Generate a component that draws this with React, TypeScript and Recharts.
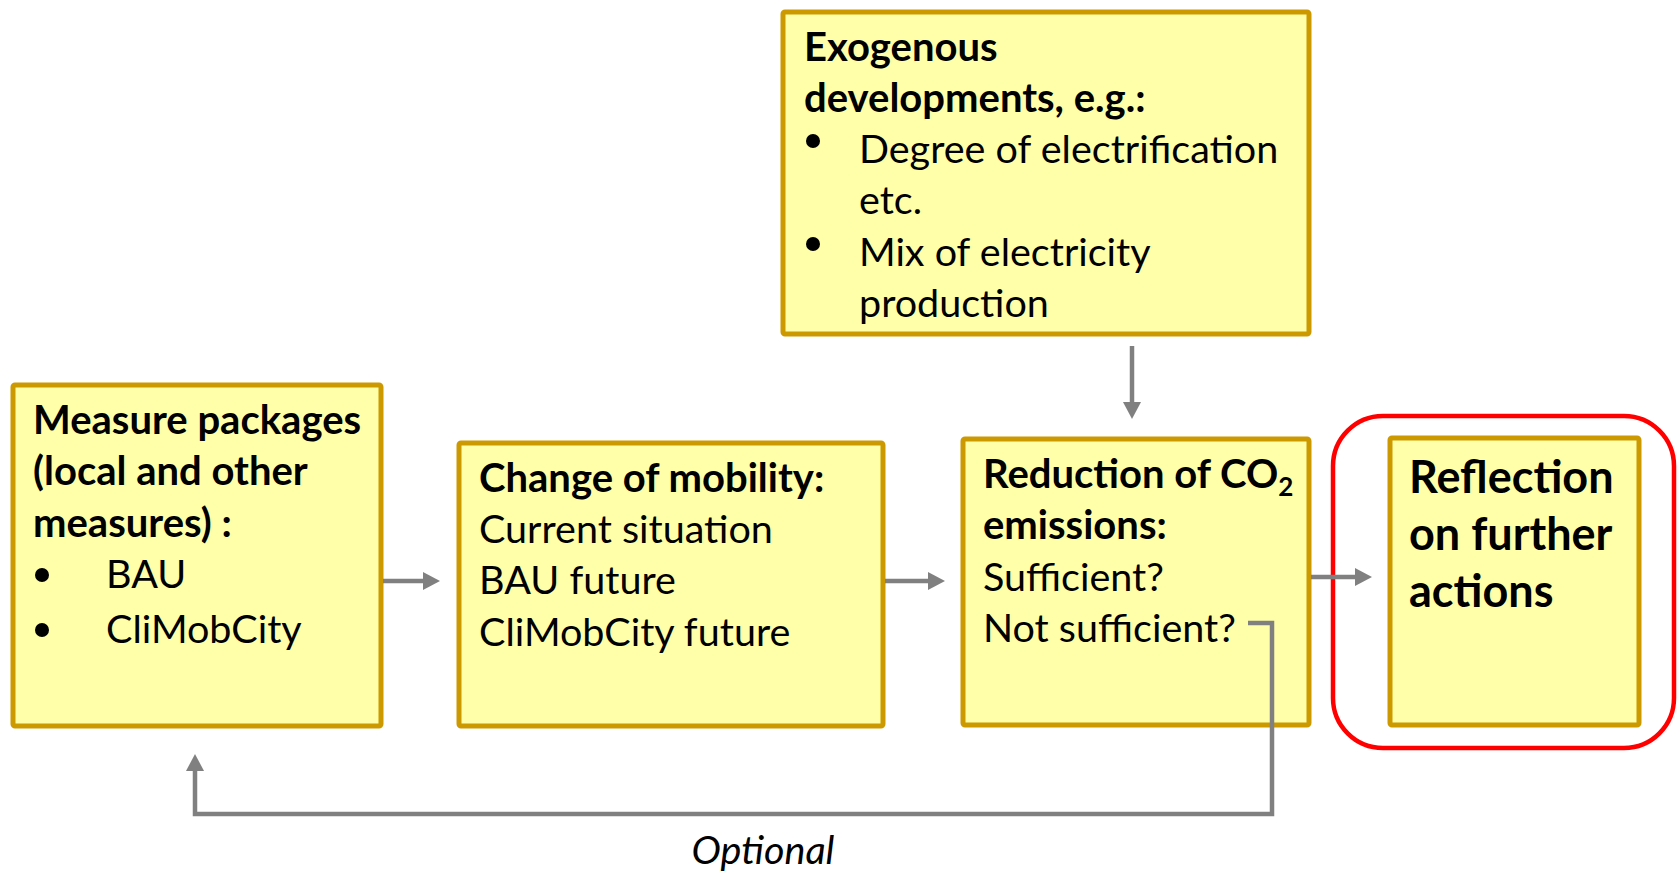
import React from 'react';
import { ComposedChart, XAxis, YAxis, Scatter, ReferenceArea } from 'recharts';

// ---- content ----
const exogenousTitle = ['Exogenous', 'developments, e.g.:'];
const exogenousItems = ['Degree of electrification', 'etc.', 'Mix of electricity', 'production'];
const measureTitle = ['Measure packages', '(local and other', 'measures) :'];
const measureItems = ['BAU', 'CliMobCity'];
const mobilityTitle = ['Change of mobility:'];
const mobilityItems = ['Current situation', 'BAU future', 'CliMobCity future'];
const reductionTitle = ['Reduction of CO', 'emissions:'];
const reductionItems = ['Sufficient?', 'Not sufficient?'];
const reflectionLines = ['Reflection', 'on further', 'actions'];
const feedbackLabel = 'Optional';

// ---- layout (diagram units = page pixels) ----
const FONT = 'Lato, "Open Sans", sans-serif';
const SIZE = 39.5;
const BOLD = 40;
const BIG = 45;
const LINE = 51.3;
const FILL = '#FFFFAA';
const EDGE = '#CC9900';
const GREY = '#808080';

const frames = [
  { x0: 783, x1: 1309, y0: 12, y1: 334 },
  { x0: 13, x1: 381, y0: 385, y1: 726 },
  { x0: 459, x1: 883, y0: 443, y1: 726 },
  { x0: 963, x1: 1309, y0: 439, y1: 725 },
  { x0: 1390, x1: 1639, y0: 438, y1: 725 },
];

type T = { x: number; y: number; t: string; bold?: boolean; size?: number; italic?: boolean; anchor?: string; sub?: boolean };

const texts: T[] = [];
const bullets: { x: number; y: number }[] = [];

exogenousTitle.forEach((t, i) => texts.push({ x: 804, y: 61 + i * LINE, t, bold: true }));
exogenousItems.forEach((t, i) => texts.push({ x: 859, y: 163 + i * LINE, t }));
bullets.push({ x: 813, y: 141 }, { x: 813, y: 244 });

measureTitle.forEach((t, i) => texts.push({ x: 33, y: 434 + i * LINE, t, bold: true }));
measureItems.forEach((t, i) => texts.push({ x: 106, y: 588 + i * 55, t }));
bullets.push({ x: 42, y: 575 }, { x: 42, y: 630 });

mobilityTitle.forEach((t) => texts.push({ x: 479, y: 492, t, bold: true }));
mobilityItems.forEach((t, i) => texts.push({ x: 479, y: 543 + i * LINE, t }));

reductionTitle.forEach((t, i) => texts.push({ x: 983, y: 488 + i * LINE, t, bold: true, sub: i === 0 }));
reductionItems.forEach((t, i) => texts.push({ x: 983, y: 591 + i * LINE, t }));

reflectionLines.forEach((t, i) => texts.push({ x: 1409, y: 493 + i * 57, t, bold: true, size: BIG }));

texts.push({ x: 763, y: 864, t: feedbackLabel, italic: true, anchor: 'middle' });

const connectors = [
  [{ x: 1132, y: 346 }, { x: 1132, y: 404 }],
  [{ x: 383, y: 581 }, { x: 425, y: 581 }],
  [{ x: 885, y: 581 }, { x: 930, y: 581 }],
  [{ x: 1311, y: 577 }, { x: 1357, y: 577 }],
  [{ x: 1248, y: 623 }, { x: 1272, y: 623 }, { x: 1272, y: 814 }, { x: 195, y: 814 }, { x: 195, y: 770 }],
];
const heads = [
  { x: 1132, y: 419, dir: 'down' },
  { x: 440, y: 581, dir: 'right' },
  { x: 945, y: 581, dir: 'right' },
  { x: 1372, y: 577, dir: 'right' },
  { x: 195, y: 754, dir: 'up' },
];

const TextShape = (p: any) => {
  const d: T = p.payload;
  const size = d.size || (d.bold ? BOLD : SIZE);
  return (
    <text
      x={p.cx}
      y={p.cy}
      fontFamily={FONT}
      fontSize={size}
      fontWeight={d.bold ? 700 : 400}
      fontStyle={d.italic ? 'italic' : 'normal'}
      textAnchor={d.anchor || 'start'}
      fill="#000"
    >
      {d.t}
      {d.sub ? (
        <tspan dy={8} fontSize={size * 0.65}>
          2
        </tspan>
      ) : null}
    </text>
  );
};

const BulletShape = (p: any) => <circle cx={p.cx} cy={p.cy} r={7} fill="#000" />;

const HeadShape = (p: any) => {
  const { cx, cy } = p;
  const dir = p.payload.dir;
  const L = 17;
  const W = 9;
  let pts = '';
  if (dir === 'right') pts = `${cx},${cy} ${cx - L},${cy - W} ${cx - L},${cy + W}`;
  else if (dir === 'down') pts = `${cx},${cy} ${cx - W},${cy - L} ${cx + W},${cy - L}`;
  else pts = `${cx},${cy} ${cx - W},${cy + L} ${cx + W},${cy + L}`;
  return <polygon points={pts} fill={GREY} />;
};

const Empty = () => <g />;

const RedFrame = (p: any) => (
  <rect x={p.x} y={p.y} width={p.width} height={p.height} rx={50} ry={50} fill="none" stroke="#FF0000" strokeWidth={4.5} />
);

const BoxShape = (p: any) => (
  <rect x={p.x} y={p.y} width={p.width} height={p.height} rx={2} ry={2} fill={FILL} stroke={EDGE} strokeWidth={5} />
);

export default function App() {
  return (
    <div style={{ position: 'absolute', left: 0, top: 0, width: 1678, height: 875 }}>
      <ComposedChart width={1678} height={875} margin={{ top: 0, right: 0, bottom: 0, left: 0 }}>
        <XAxis type="number" dataKey="x" domain={[0, 1678]} allowDataOverflow hide />
        <YAxis type="number" dataKey="y" domain={[0, 875]} allowDataOverflow reversed hide />
        <ReferenceArea x1={1333} x2={1674} y1={416} y2={748} shape={RedFrame} ifOverflow="visible" />
        {frames.map((f, i) => (
          <ReferenceArea key={'f' + i} x1={f.x0} x2={f.x1} y1={f.y0} y2={f.y1} shape={BoxShape} ifOverflow="visible" />
        ))}
        {connectors.map((c, i) => (
          <Scatter
            key={'c' + i}
            data={c}
            dataKey="y"
            line={{ stroke: GREY, strokeWidth: 4.5 }}
            lineType="joint"
            shape={Empty}
            isAnimationActive={false}
          />
        ))}
        <Scatter data={heads} dataKey="y" shape={HeadShape} isAnimationActive={false} />
        <Scatter data={bullets} dataKey="y" shape={BulletShape} isAnimationActive={false} />
        <Scatter data={texts} dataKey="y" shape={TextShape} isAnimationActive={false} />
      </ComposedChart>
    </div>
  );
}
